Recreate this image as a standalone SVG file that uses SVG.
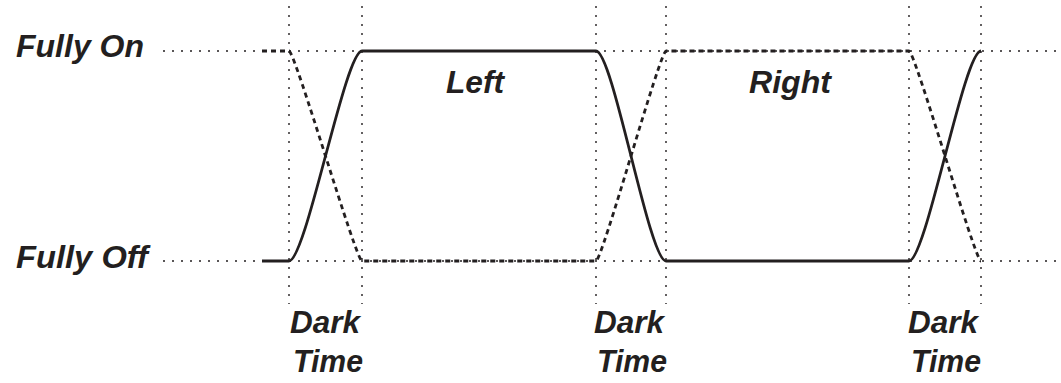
<svg xmlns="http://www.w3.org/2000/svg" width="1061" height="383" viewBox="0 0 1061 383">
<style>
.lbl{font-family:"Liberation Sans",Arial,sans-serif;font-weight:bold;font-style:italic;font-size:32px;fill:#231f20}
.grid{stroke:#231f20;stroke-width:1.4;stroke-dasharray:2 7;fill:none}
.on{stroke:#231f20;stroke-width:2.8;fill:none}
.off{stroke:#231f20;stroke-width:2.8;fill:none;stroke-dasharray:5 4}
</style>
<rect width="1061" height="383" fill="#fff"/>
<g id="grid">
<line class="grid" x1="163" y1="51" x2="1061" y2="51"/>
<line class="grid" x1="163" y1="261" x2="1061" y2="261"/>
<line class="grid" x1="289" y1="6" x2="289" y2="304"/>
<line class="grid" x1="362" y1="6" x2="362" y2="304"/>
<line class="grid" x1="596" y1="6" x2="596" y2="304"/>
<line class="grid" x1="666" y1="6" x2="666" y2="304"/>
<line class="grid" x1="909" y1="6" x2="909" y2="304"/>
<line class="grid" x1="981" y1="6" x2="981" y2="304"/>
</g>
<g id="connectors">
<path id="left-signal" class="on" d="M262,261 L289,261 C306,261 345,51 362,51 L596,51 C613,51 649,261 666,261 L909,261 C926,261 964,51 981,51"/>
<path id="right-signal" class="off" d="M262,51 L289,51 C295,51 356,261 362,261 L596,261 C602,261 660,51 666,51 L909,51 C915,51 975,261 981,261"/>
</g>
<g id="label-fully-on"><text class="lbl" x="16" y="57" textLength="128" lengthAdjust="spacingAndGlyphs">Fully On</text></g>
<g id="label-fully-off"><text class="lbl" x="16" y="268" textLength="132" lengthAdjust="spacingAndGlyphs">Fully Off</text></g>
<g id="label-left"><text class="lbl" x="446" y="93" textLength="58" lengthAdjust="spacingAndGlyphs">Left</text></g>
<g id="label-right"><text class="lbl" x="749" y="93" textLength="82" lengthAdjust="spacingAndGlyphs">Right</text></g>
<g id="dark-1"><text class="lbl" x="290" y="333" textLength="70" lengthAdjust="spacingAndGlyphs">Dark</text><text class="lbl" x="293" y="372" textLength="70" lengthAdjust="spacingAndGlyphs">Time</text></g>
<g id="dark-2"><text class="lbl" x="594" y="333" textLength="70" lengthAdjust="spacingAndGlyphs">Dark</text><text class="lbl" x="597" y="372" textLength="70" lengthAdjust="spacingAndGlyphs">Time</text></g>
<g id="dark-3"><text class="lbl" x="908" y="333" textLength="70" lengthAdjust="spacingAndGlyphs">Dark</text><text class="lbl" x="911" y="372" textLength="70" lengthAdjust="spacingAndGlyphs">Time</text></g>
</svg>
